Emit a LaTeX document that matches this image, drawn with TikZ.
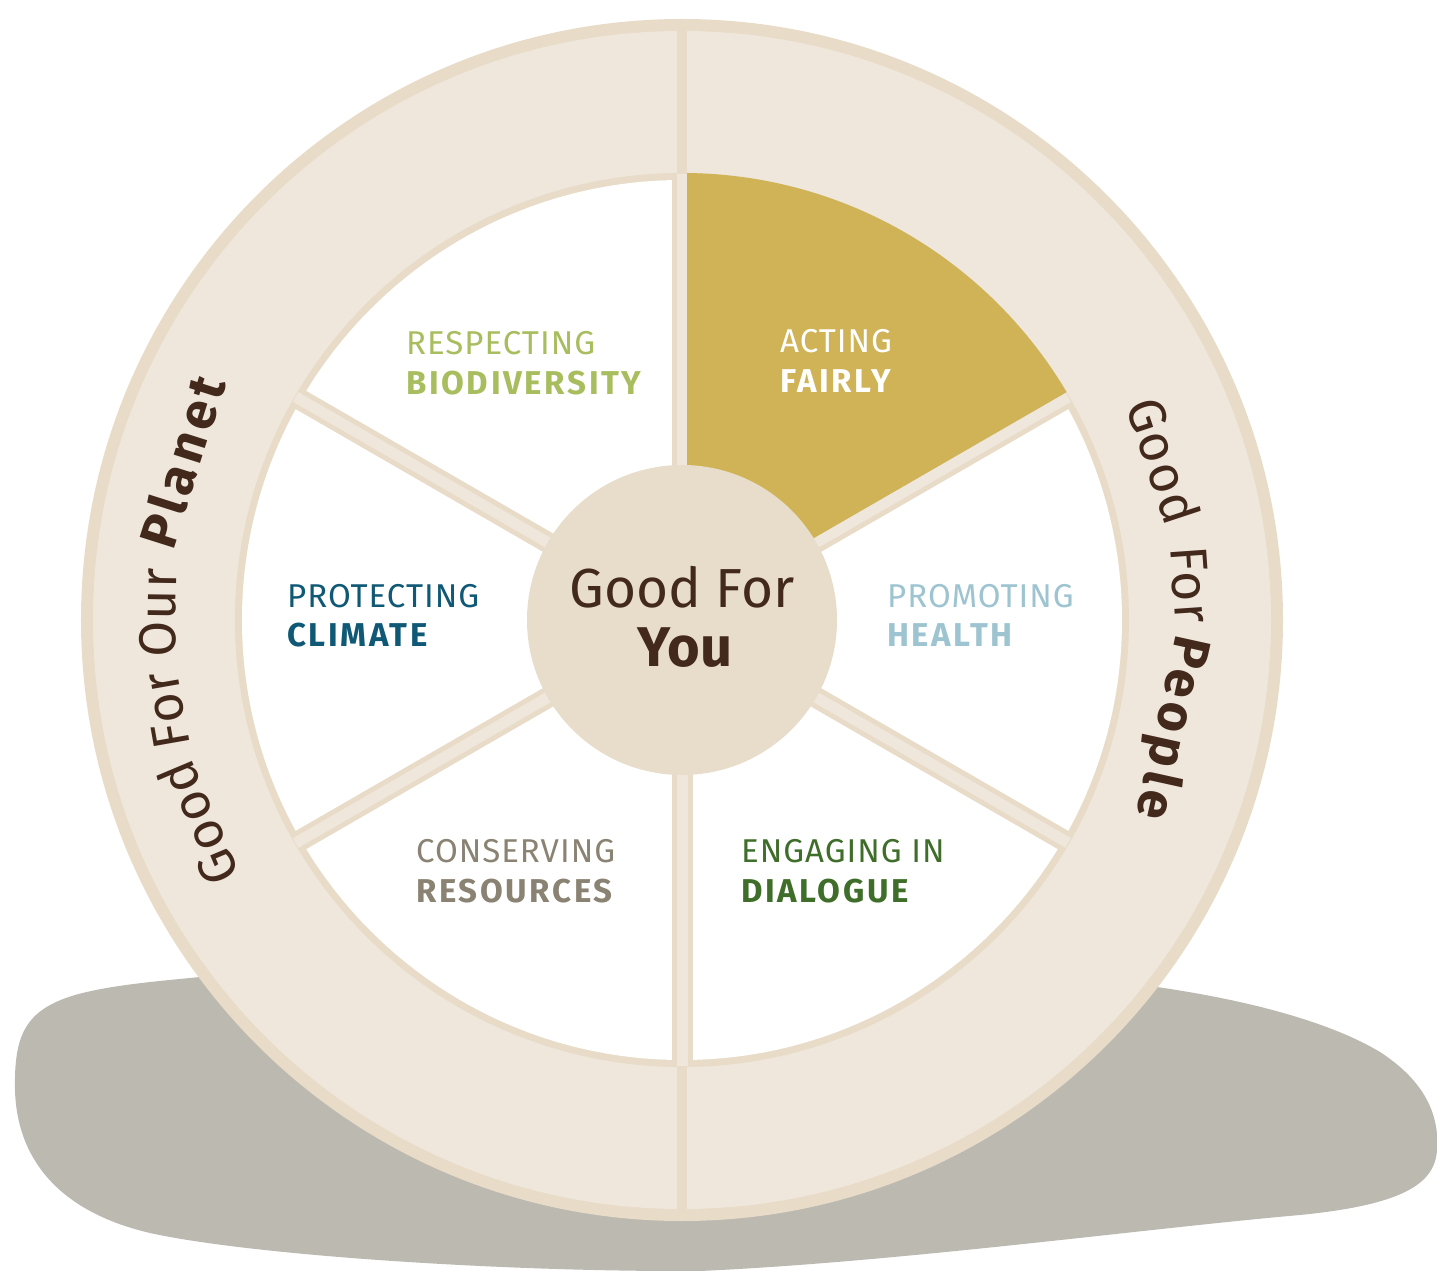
\documentclass[tikz,border=0pt]{standalone}
\usepackage{fontspec}
\setmainfont{Fira Sans}
\definecolor{ringfill}{HTML}{EFE7DC}
\definecolor{ringborder}{HTML}{E8DCC9}
\definecolor{centerfill}{HTML}{E8DDCB}
\definecolor{gold}{HTML}{CFB356}
\definecolor{shadowgray}{HTML}{BCB9B1}
\definecolor{brown}{HTML}{42291C}
\definecolor{leafgreen}{HTML}{A8BD5E}
\definecolor{teal}{HTML}{0F5876}
\definecolor{lightblue}{HTML}{9DC4D0}
\definecolor{graybrown}{HTML}{8A8272}
\definecolor{darkgreen}{HTML}{3F6E2A}
\tikzset{
  toplabel/.style={anchor=base west, inner sep=0pt, font=\fontsize{33}{33}\selectfont\addfontfeatures{LetterSpace=3}},
  botlabel/.style={anchor=base west, inner sep=0pt, font=\fontsize{33}{33}\selectfont\bfseries\addfontfeatures{LetterSpace=8}},
  ringword/.style={anchor=base, inner sep=0pt, text=brown, font=\fontsize{52}{52}\selectfont\addfontfeatures{LetterSpace=3}},
  ringbold/.style={ringword, font=\fontsize{52}{52}\selectfont\bfseries\addfontfeatures{LetterSpace=9}},
  spokeborder/.style={line width=21, ringborder},
  spokefill/.style={line width=11, ringfill},
}
\begin{document}
\begin{tikzpicture}[x=1pt,y=1pt]
\useasboundingbox (-682,-651) rectangle (755,620);
% shadow blob (image coordinates)
\begin{scope}[shift={(-682,620)}, yscale=-1]
\fill[shadowgray] (15,1090) .. controls (14,1035) and (25,1010) .. (75,995)
  .. controls (110,985) and (160,981) .. (200,977) -- (1157,987)
  .. controls (1260,1002) and (1335,1025) .. (1380,1052)
  .. controls (1420,1078) and (1440,1110) .. (1437,1150)
  .. controls (1435,1185) and (1400,1205) .. (1300,1215)
  .. controls (1150,1228) and (900,1262) .. (700,1271)
  .. controls (500,1272) and (250,1255) .. (150,1233)
  .. controls (60,1212) and (17,1160) .. (15,1090) -- cycle;
\end{scope}
% outer ring
\fill[ringborder] (0,0) circle (601);
\fill[ringfill] (0,0) circle (589);
\fill[ringborder] (-5,440) rectangle (5,595);
\fill[ringborder] (-5,-440) rectangle (5,-595);
% inner area
\fill[ringborder] (0,0) circle (447);
\fill[white] (0,0) circle (440);
% spokes
\foreach \a in {90,30,-30,-90,-150,150} {
  \draw[spokeborder] (0,0) -- (\a:446);
}
\foreach \a in {90,30,-30,-90,-150,150} {
  \draw[spokefill] (0,0) -- (\a:446);
}
% gold sector
\begin{scope}
\clip (0,0) circle (447);
\fill[gold] (5,8.66) -- (5,700) -- (871,700) -- (871,508.66) -- cycle;
\end{scope}
% center
\fill[centerfill] (0,0) circle (155);
\node[anchor=base, inner sep=0pt, text=brown, font=\fontsize{55}{55}\selectfont] (goodfor) at (0,12) {Good For};
\node[anchor=base, inner sep=0pt, text=brown, font=\fontsize{56}{56}\selectfont\bfseries] (you) at (3,-47) {You};
% labels
\node[toplabel, text=leafgreen] (resp) at (-276,265) {RESPECTING};
\node[botlabel, text=leafgreen] (bio) at (-276,225) {BIODIVERSITY};
\node[toplabel, text=white] (acting) at (98,267) {ACTING};
\node[botlabel, text=white] (fairly) at (98,227) {FAIRLY};
\node[toplabel, text=teal] (prot) at (-395,12) {PROTECTING};
\node[botlabel, text=teal] (clim) at (-395,-27) {CLIMATE};
\node[toplabel, text=lightblue] (prom) at (205,12) {PROMOTING};
\node[botlabel, text=lightblue] (health) at (205,-27) {HEALTH};
\node[toplabel, text=graybrown] (cons) at (-266,-242) {CONSERVING};
\node[botlabel, text=graybrown] (res) at (-266,-282) {RESOURCES};
\node[toplabel, text=darkgreen] (eng) at (59,-242) {ENGAGING IN};
\node[botlabel, text=darkgreen] (dia) at (59,-282) {DIALOGUE};
% ring texts, left
\node[ringword, rotate=112.8] (lgood) at (202.8:506) {Good};
\node[ringword, rotate=100.0] (lfor) at (190.0:506) {For};
\node[ringword, rotate=89.2] (lour) at (179.2:506) {Our};
\node[ringbold, rotate=72.4] (lplanet) at (162.4:506) {Planet};
% ring texts, right
\node[ringword, rotate=-71.7] (rgood) at (18.3:489) {Good};
\node[ringword, rotate=-86.0] (rfor) at (4.0:492) {For};
\node[ringbold, rotate=-102.4] (rpeople) at (-12.4:486) {People};
\end{tikzpicture}
\end{document}
